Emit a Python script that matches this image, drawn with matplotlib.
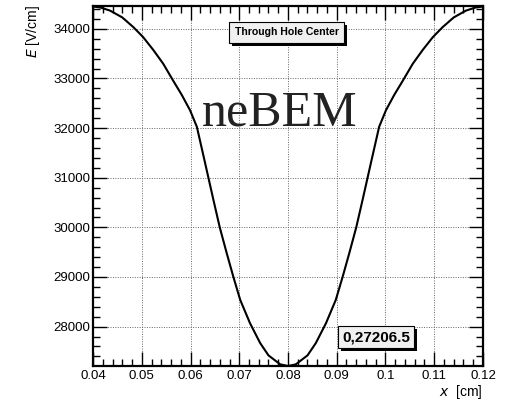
import matplotlib
matplotlib.use("Agg")
import matplotlib.pyplot as plt
from matplotlib.ticker import MultipleLocator, FuncFormatter

# field magnitude along x
x_cm = [0.0400, 0.0415, 0.0435, 0.0460, 0.0483, 0.0503, 0.0524, 0.0544, 0.0564,
        0.0582, 0.0599, 0.0613, 0.0627, 0.0647, 0.0660, 0.0674, 0.0688, 0.0702,
        0.0722, 0.0743, 0.0760, 0.0784, 0.0800, 0.0816, 0.0840, 0.0857, 0.0878,
        0.0898, 0.0912, 0.0926, 0.0940, 0.0953, 0.0973, 0.0987, 0.1001, 0.1018,
        0.1036, 0.1056, 0.1076, 0.1097, 0.1117, 0.1140, 0.1165, 0.1185, 0.1200]
E_vcm = [34450, 34430, 34367, 34230, 34032, 33831, 33570, 33297, 32963,
         32670, 32361, 32027, 31424, 30554, 30000, 29490, 29000, 28538,
         28070, 27667, 27420, 27240, 27206.5, 27240, 27420, 27667, 28070,
         28538, 29000, 29490, 30000, 30554, 31424, 32027, 32361, 32670,
         32963, 33297, 33570, 33831, 34032, 34230, 34367, 34430, 34450]

title_text = "Through Hole Center"
tag_text = "neBEM"
min_text = "0,27206.5"

plt.rcParams["font.family"] = ["Liberation Sans", "DejaVu Sans"]

fig = plt.figure(figsize=(5.13, 4.0), dpi=100)
ax = fig.add_axes([0.1813, 0.085, 0.7602, 0.900])

ax.plot(x_cm, E_vcm, color="black", lw=1.5)

ax.set_xlim(0.04, 0.12)
ax.set_ylim(27206.5, 34460)

ax.xaxis.set_major_locator(MultipleLocator(0.01))
ax.xaxis.set_minor_locator(MultipleLocator(0.002))
ax.yaxis.set_major_locator(MultipleLocator(1000))
ax.yaxis.set_minor_locator(MultipleLocator(200))
ax.xaxis.set_major_formatter(FuncFormatter(lambda v, p: f"{v:.2f}".rstrip("0")))
ax.yaxis.set_major_formatter(FuncFormatter(lambda v, p: f"{int(round(v))}"))

ax.tick_params(which="both", direction="in", top=True, right=True,
               labelsize=9.5, colors="black", width=1)
ax.tick_params(which="major", length=10)
ax.tick_params(which="minor", length=5)
ax.tick_params(axis="x", pad=3)
ax.tick_params(axis="y", pad=2)

for s in ax.spines.values():
    s.set_linewidth(1.6)

ax.grid(True, which="major", color="#666666", linestyle=(0, (1, 1.5)), lw=0.7)

fig.text(0.064, 0.988, r"$\mathit{E}$ [V/cm]", rotation=90, ha="center", va="top", fontsize=10)
fig.text(0.941, 0.042, r"$\mathit{x}$  [cm]", ha="right", va="top", fontsize=10)

fig.text(0.545, 0.6875, tag_text, family="Liberation Serif", fontsize=36,
         ha="center", va="baseline", color="#222222")

t1 = fig.text(0.5585, 0.919, title_text, fontsize=7.6, weight="bold",
              ha="center", va="center",
              bbox=dict(boxstyle="square,pad=0.5", fc="#f0f0f0", ec="black", lw=0.8))
t2 = fig.text(0.733, 0.1575, min_text, fontsize=11, weight="bold",
              ha="center", va="center",
              bbox=dict(boxstyle="square,pad=0.25", fc="#f0f0f0", ec="black", lw=0.8))

# drop shadows behind the text boxes
fig.canvas.draw()
for t in (t1, t2):
    bb = t.get_bbox_patch().get_window_extent(fig.canvas.get_renderer())
    bb = bb.transformed(fig.transFigure.inverted())
    sh = plt.Rectangle((bb.x0 + 3 / 513, bb.y0 - 3 / 400), bb.width, bb.height,
                       transform=fig.transFigure, fc="black", ec="none", zorder=4)
    fig.add_artist(sh)
    t.set_zorder(5)

fig.savefig("out.png", dpi=100)
